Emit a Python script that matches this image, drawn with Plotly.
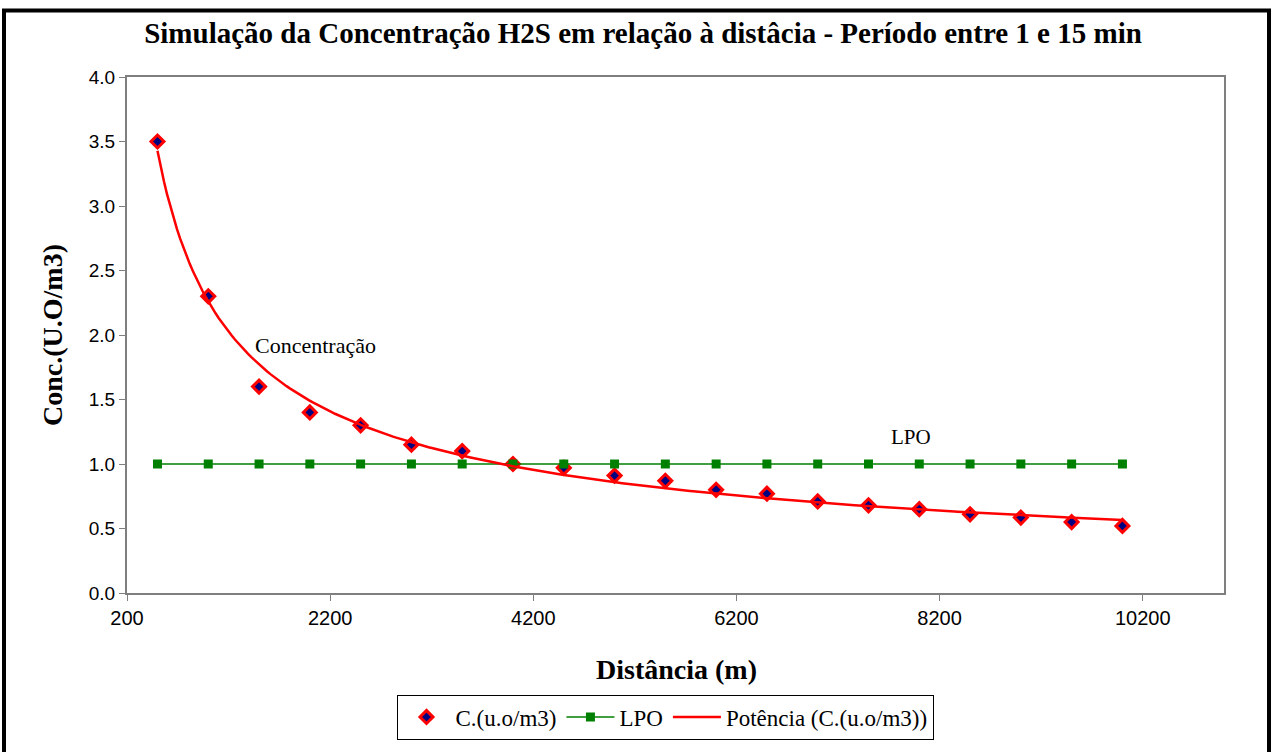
import numpy as np
import plotly.graph_objects as go

# Distance from the source (m) and simulated H2S concentration (u.o/m3)
distancia = [500, 1000, 1500, 2000, 2500, 3000, 3500, 4000, 4500, 5000,
             5500, 6000, 6500, 7000, 7500, 8000, 8500, 9000, 9500, 10000]
concentracao = [3.5, 2.3, 1.6, 1.4, 1.3, 1.15, 1.1, 1.0, 0.97, 0.91,
                0.87, 0.80, 0.77, 0.71, 0.68, 0.65, 0.61, 0.585, 0.55, 0.52]
# Odour perception limit (LPO)
lpo = [1.0] * len(distancia)

x_ticks = [200, 2200, 4200, 6200, 8200, 10200]

# Power trendline y = a * x^b, fitted by least squares in log-log space
b, ln_a = np.polyfit(np.log(distancia), np.log(concentracao), 1)
x_fit = np.linspace(min(distancia), max(distancia), 300)
y_fit = np.exp(ln_a) * x_fit ** b

W, H = 1274, 752
L, R, T, B = 127, 1224, 77, 597  # plot area in pixels


def px(xp):
    return (xp - L) / (R - L)


def py(yp):
    return (B - yp) / (B - T)


serif = "Liberation Serif, Times New Roman, serif"
sans = "Liberation Sans, Arial, sans-serif"

fig = go.Figure()
fig.add_trace(go.Scatter(
    x=distancia, y=concentracao, mode="markers", name="C.(u.o/m3)",
    marker=dict(symbol="diamond", size=10, color="#000080",
                line=dict(color="#FF0000", width=3)),
))
fig.add_trace(go.Scatter(
    x=distancia, y=lpo, mode="lines+markers", name="LPO",
    line=dict(color="#008000", width=1.5),
    marker=dict(symbol="square", size=9, color="#008000"),
))
fig.add_trace(go.Scatter(
    x=x_fit, y=y_fit, mode="lines", name="Potência (C.(u.o/m3))",
    line=dict(color="#FF0000", width=2.5),
))

fig.update_layout(
    width=W, height=H,
    margin=dict(l=L, r=W - R, t=T, b=H - B, pad=0),
    paper_bgcolor="white", plot_bgcolor="white",
    title=dict(
        text="<b>Simulação da Concentração H2S em relação à distâcia - Período entre 1 e 15 min</b>",
        font=dict(family=serif, size=29, color="black"),
        x=643 / W, xanchor="center", y=1 - 33 / H, yanchor="middle",
    ),
    showlegend=True,
    legend=dict(
        orientation="h", x=px(665), xanchor="center", y=py(722), yanchor="middle",
        font=dict(family=serif, size=23, color="black"),
        bordercolor="black", borderwidth=1, bgcolor="white",
        traceorder="normal", itemwidth=48,
    ),
    xaxis=dict(
        range=[200, 11000], tickvals=x_ticks, ticktext=[str(v) for v in x_ticks],
        showline=True, linecolor="#7f7f7f", linewidth=2, mirror=True,
        ticks="outside", ticklen=6, tickcolor="#7f7f7f", tickwidth=1,
        showgrid=False, zeroline=False,
        tickfont=dict(family=sans, size=20, color="black"),
    ),
    yaxis=dict(
        range=[0, 4], dtick=0.5, tick0=0, tickformat=".1f",
        showline=True, linecolor="#7f7f7f", linewidth=2, mirror=True,
        ticks="outside", ticklen=6, tickcolor="#7f7f7f", tickwidth=1,
        showgrid=False, zeroline=False,
        tickfont=dict(family=sans, size=19, color="black"),
    ),
)

# Axis titles and in-plot labels
fig.add_annotation(text="<b>Distância (m)</b>", xref="paper", yref="paper",
                   x=px(676), y=py(674), xanchor="center", yanchor="middle",
                   showarrow=False, font=dict(family=serif, size=28, color="black"))
fig.add_annotation(text="<b>Conc.(U.O/m3)</b>", xref="paper", yref="paper",
                   x=px(52), y=py(337), xanchor="center", yanchor="middle",
                   textangle=-90, showarrow=False,
                   font=dict(family=serif, size=28, color="black"))
fig.add_annotation(text="Concentração", xref="paper", yref="paper",
                   x=px(315), y=py(348), xanchor="center", yanchor="middle",
                   showarrow=False, font=dict(family=serif, size=22, color="black"))
fig.add_annotation(text="LPO", xref="paper", yref="paper",
                   x=px(911), y=py(440), xanchor="center", yanchor="middle",
                   showarrow=False, font=dict(family=serif, size=21, color="black"))

# Black frame around the whole chart
fig.add_shape(type="rect", xref="paper", yref="paper",
              x0=px(4), x1=px(1269), y0=py(770), y1=py(10),
              line=dict(color="black", width=4), fillcolor="rgba(0,0,0,0)",
              layer="above")

fig.write_html("out.html")
